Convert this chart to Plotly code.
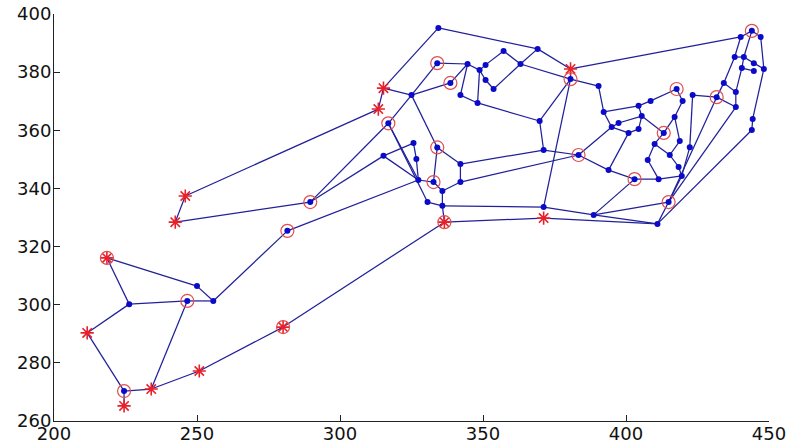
import plotly.graph_objects as go

# ---- node data ----
node_names = [
    "A1","A2","A3","A4","A5","A6","A7","A8","A9","A10","A11","A12","A13","A14","A15",
    "B1","B2","B3","B4","B5","B6","B7","B8","B9","B10","B11","B12","B13","B14","B15","B16",
    "C1","C2","C3","C4","C5","C6","C7","C8","C9","C10","C11","C12","C13","C14","C15","C16","C17","C18","C19",
    "D1","D2","D3","D4","D5","D6","D7","D8","D9","D10","D11","D12","D13","D14","D15","D16","D17","D18","D19",
    "D20","D21","D22","D23","D24","D25","D26","D27","D28",
    "E1","E2","E3","E4","E5","E6","E7","E8","E9","E10","E11","E12","E13","E14","E15",
]
node_x = [
    245.9, 242.4, 289.6, 281.6, 218.5, 250.0, 226.3, 246.6, 255.7, 211.6, 280.1, 224.5, 234.0, 250.8, 224.5,
    315.2, 313.4, 316.9, 325.0, 315.2, 325.7, 326.7, 327.4, 330.6, 332.7, 334.0, 335.8, 335.8, 336.5, 342.1, 342.1,
    334.4, 334.0, 338.6, 344.6, 348.8, 350.9, 357.2, 369.1, 363.1, 350.9, 353.7, 342.1, 348.1, 380.6, 380.6, 369.8, 371.2, 371.2, 371.2,
    383.4, 390.4, 417.7, 423.3, 408.6, 419.8, 404.4, 392.2, 405.5, 417.0, 397.4, 395.0, 400.9, 404.4, 413.2, 410.0, 418.8, 422.3, 415.3,
    407.6, 418.4, 393.9, 403.0, 411.4, 419.5, 388.7, 414.9, 411.0,
    444.0, 440.1, 447.1, 438.0, 441.2, 444.7, 448.2, 440.5, 444.7, 434.2, 438.4, 431.7, 438.4, 444.3, 444.0,
]
node_y = [
    337.4, 328.4, 335.3, 325.4, 316.1, 306.4, 300.2, 301.3, 301.3, 290.3, 292.3, 270.3, 271.0, 277.2, 265.2,
    374.5, 367.3, 362.4, 372.1, 351.2, 355.6, 350.1, 342.9, 335.3, 342.2, 354.1, 339.1, 334.0, 328.4, 348.4, 342.2,
    395.2, 383.1, 376.3, 382.8, 380.7, 382.5, 387.3, 388.0, 382.8, 377.3, 374.2, 372.1, 369.4, 381.1, 377.6, 363.2, 353.2, 333.6, 329.8,
    351.5, 375.2, 374.2, 372.1, 370.1, 370.1, 368.4, 366.3, 364.9, 364.6, 362.5, 361.1, 359.1, 360.4, 359.1, 355.3, 356.3, 354.2, 351.5,
    349.8, 347.4, 346.3, 343.2, 343.2, 344.3, 330.9, 335.3, 327.8,
    394.2, 392.1, 392.1, 385.2, 385.2, 383.1, 381.1, 381.4, 380.4, 376.3, 373.2, 371.4, 368.0, 363.9, 360.1,
]

edges = [
    ("A5","A7"),("A5","A6"),("A6","A9"),("A7","A8"),("A8","A9"),("A7","A10"),("A10","A12"),
    ("A12","A15"),("A12","A13"),("A13","A8"),("A13","A14"),("A14","A11"),("A9","A4"),
    ("A1","A2"),("A2","A3"),("A1","B2"),("A11","B14"),
    ("B1","C1"),("B1","B4"),("B1","B2"),("B3","B4"),("B4","C2"),("B4","C3"),("B4","B11"),
    ("B3","B8"),("B3","B9"),("B5","B6"),("B5","B8"),("B6","B7"),("B7","B8"),("B8","B10"),
    ("B10","B11"),("B10","B12"),("B11","B15"),("B15","B16"),("B12","B16"),("B12","B13"),
    ("B13","B9"),("B13","B14"),("B13","C18"),("B14","C19"),("B15","C17"),("B16","D1"),
    ("A3","B3"),("A3","B5"),("A4","B8"),
    ("C1","C8"),("C8","C14"),("C8","C9"),("C9","C7"),("C7","C6"),("C6","C5"),("C5","C4"),
    ("C4","C2"),("C4","C3"),("C4","C12"),("C5","C13"),("C5","C10"),("C10","C11"),("C11","C9"),
    ("C12","C13"),("C13","C16"),("C16","C15"),("C16","C17"),("C15","C18"),("C14","C15"),
    ("C9","C15"),("C17","D1"),("C18","D26"),("C19","D28"),("C14","E2"),("C15","D2"),
    ("D2","D8"),("D8","D7"),("D7","D5"),("D5","D3"),("D3","D6"),("D6","D10"),("D10","D15"),
    ("D7","D9"),("D9","D14"),("D9","D15"),("D8","D12"),("D12","D11"),("D11","D9"),
    ("D12","D13"),("D13","D14"),("D15","D16"),("D16","D20"),("D20","D24"),("D16","D19"),
    ("D19","D21"),("D17","D19"),("D17","D10"),("D21","D25"),("D24","D25"),("D23","D24"),
    ("D22","D23"),("D22","D1"),("D12","D1"),("D13","D22"),("D23","D26"),("D26","D27"),
    ("D26","D28"),("D28","D27"),("D25","D27"),("D4","D18"),("D18","D25"),
    ("E1","E2"),("E1","E3"),("E2","E4"),("E4","E10"),("E10","E12"),("E4","E5"),("E1","E5"),
    ("E5","E8"),("E8","E9"),("E3","E7"),("E6","E7"),("E5","E6"),("E8","E11"),("E10","E11"),
    ("E11","E13"),("E12","E13"),("E12","D4"),("E7","E14"),("E14","E15"),("E12","D27"),
    ("E13","D27"),("E15","D28"),
]

star_nodes = ["A1","A2","A5","A10","A11","A13","A14","A15","B1","B2","B14","C14","C19"]
circle_nodes = ["A3","A4","A5","A8","A11","A12","B3","B10","B11","B14","C2","C3","C15",
                "D1","D3","D15","D23","D27","E1","E12"]

x_ticks = [200, 250, 300, 350, 400, 450]
y_ticks = [260, 280, 300, 320, 340, 360, 380, 400]

# ---- build ----
idx = {n: i for i, n in enumerate(node_names)}
ex, ey = [], []
for a, b in edges:
    ex += [node_x[idx[a]], node_x[idx[b]], None]
    ey += [node_y[idx[a]], node_y[idx[b]], None]

dot_nodes = [n for n in node_names if n not in star_nodes]

fig = go.Figure()
fig.add_trace(go.Scatter(x=ex, y=ey, mode="lines",
                         line=dict(color="#20209a", width=1.25), hoverinfo="skip"))
fig.add_trace(go.Scatter(x=[node_x[idx[n]] for n in dot_nodes],
                         y=[node_y[idx[n]] for n in dot_nodes],
                         mode="markers", marker=dict(color="#0a0ac8", size=6, symbol="circle")))
fig.add_trace(go.Scatter(x=[node_x[idx[n]] for n in star_nodes],
                         y=[node_y[idx[n]] for n in star_nodes],
                         mode="markers", marker=dict(symbol="asterisk-open", size=11, color="#e8202a",
                                                     line=dict(color="#e8202a", width=1.6))))
fig.add_trace(go.Scatter(x=[node_x[idx[n]] for n in circle_nodes],
                         y=[node_y[idx[n]] for n in circle_nodes],
                         mode="markers", marker=dict(symbol="circle-open", size=13, color="#e05050",
                                                     line=dict(color="#e05050", width=1.2))))

axis_common = dict(showline=True, linecolor="#222", linewidth=1, mirror=False,
                   ticks="inside", ticklen=6, tickcolor="#222", showgrid=False,
                   zeroline=False, automargin=False,
                   tickfont=dict(family="DejaVu Sans", size=18, color="#111"))
fig.update_xaxes(range=[200, 450], tickvals=x_ticks, ticktext=[str(v) for v in x_ticks],
                 ticklabelstandoff=-4, **axis_common)
fig.update_yaxes(range=[260, 400], tickvals=y_ticks, ticktext=[str(v) for v in y_ticks],
                 ticklabelstandoff=-2, **axis_common)
fig.update_layout(width=787, height=445, margin=dict(l=54, r=18, t=14, b=24),
                  paper_bgcolor="white", plot_bgcolor="white", showlegend=False)
fig.write_html("out.html", config={"displayModeBar": False},
               post_script="document.body.style.margin='0';document.body.style.overflow='hidden';")
